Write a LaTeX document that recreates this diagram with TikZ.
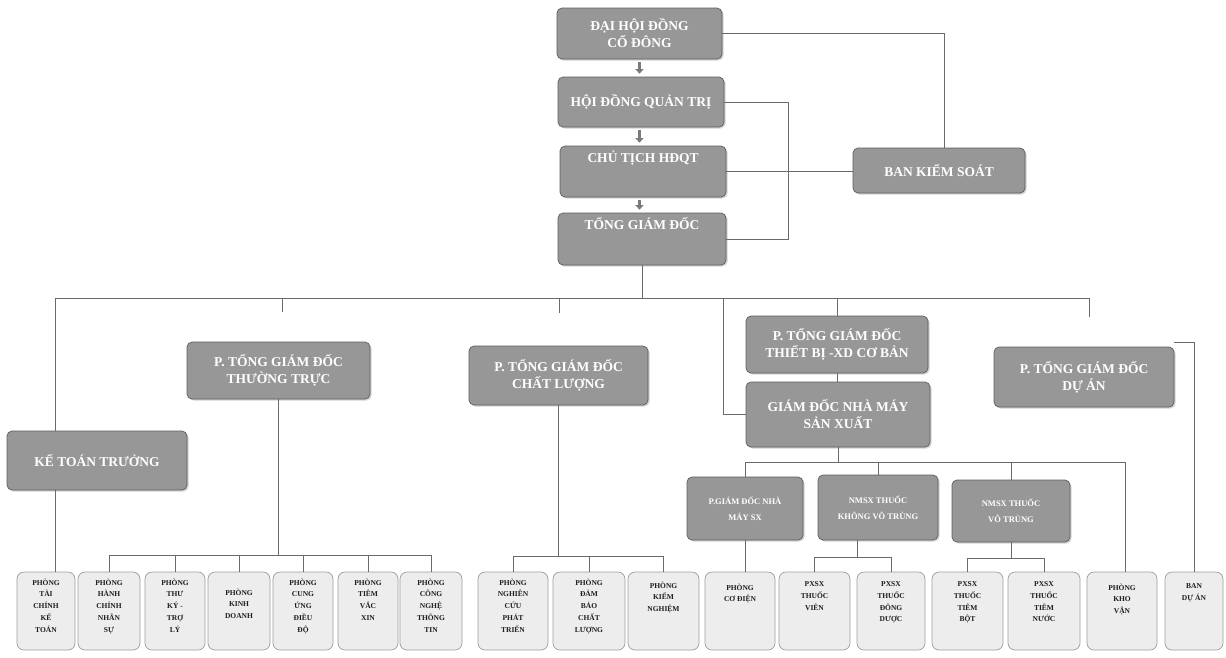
\documentclass[tikz,border=0pt]{standalone}
\usepackage{fontspec}
\setmainfont{Liberation Serif}
\usetikzlibrary{shadows,arrows.meta,calc}
\definecolor{boxfill}{HTML}{979797}
\definecolor{boxline}{HTML}{5E5E5E}
\definecolor{leaffill}{HTML}{EDEDED}
\definecolor{leafline}{HTML}{9E9E9E}
\definecolor{connc}{HTML}{6A6A6A}
\definecolor{leaftext}{HTML}{1E1E1E}
\definecolor{arrowc}{HTML}{7A7A7A}
\newcommand\leafbox[5]{%
  \node[leaf, minimum width=#3pt] (#1) at (#2,611) {};
  \node[leaftxt] (#1t) at ([yshift=-#4pt]#1.north) {#5};}
\begin{document}
\begin{tikzpicture}[x=1pt,y=-1pt,
  mainbox/.style={draw=boxline, line width=0.7pt, rounded corners=5pt, fill=boxfill,
    text=white, font=\bfseries\fontsize{13.5}{17}\selectfont, align=center, inner sep=0pt,
    drop shadow={shadow xshift=1.5pt, shadow yshift=-1.5pt, opacity=0.35}},
  smallbox/.style={mainbox, font=\bfseries\fontsize{8.5}{16}\selectfont},
  leaf/.style={draw=leafline, line width=0.7pt, rounded corners=7pt, fill=leaffill,
    minimum height=78pt, inner sep=0pt},
  leaftxt/.style={anchor=north, inner sep=0pt, align=center, text=leaftext,
    font=\bfseries\fontsize{7.5}{11.7}\selectfont},
  conn/.style={draw=connc, line width=0.7pt},
  blockarrow/.style={draw=arrowc, line width=3.5pt, -{Triangle[width=8pt,length=4.5pt]}}
]
\fill[white] (0,0) rectangle (1226,657);
\useasboundingbox (0,0) rectangle (1226,657);

% top chain
\node[mainbox, minimum width=165pt, minimum height=51pt] (dhd) at (639.5,33.5) {ĐẠI HỘI ĐỒNG\\CỔ ĐÔNG};
\node[mainbox, minimum width=166pt, minimum height=50pt] (hdqt) at (641,102) {HỘI ĐỒNG QUẢN TRỊ};
\node[mainbox, minimum width=166pt, text height=16.3pt, text depth=34.7pt] (ct) at (643,171.5) {CHỦ TỊCH HĐQT};
\node[mainbox, minimum width=168pt, text height=16.3pt, text depth=35.7pt] (tgd) at (642,239) {TỔNG GIÁM ĐỐC};
\node[mainbox, minimum width=172pt, minimum height=45pt] (bks) at (939,170.5) {BAN KIỂM SOÁT};

\draw[blockarrow] ([yshift=-3pt]dhd.south) -- ([yshift=3pt]dhd.south |- hdqt.north);
\draw[blockarrow] ([yshift=-3pt]hdqt.south -| dhd.south) -- ([yshift=3pt]dhd.south |- ct.north);
\draw[blockarrow] ([yshift=-3pt]ct.south -| dhd.south) -- ([yshift=3pt]dhd.south |- tgd.north);

\draw[conn] (dhd.east) -| ([xshift=5pt]bks.north);
\coordinate (vx) at (788,0);
\draw[conn] (hdqt.east) -| (vx |- tgd.east) -- (tgd.east);
\draw[conn] (ct.east) -- (ct.east -| bks.west);

% second level
\node[mainbox, minimum width=180pt, minimum height=59pt] (ktt) at (97,460.5) {KẾ TOÁN TRƯỞNG};
\node[mainbox, minimum width=183pt, minimum height=57pt] (ptt) at (278.5,370.5) {P. TỔNG GIÁM ĐỐC\\THƯỜNG TRỰC};
\node[mainbox, minimum width=179pt, minimum height=59pt] (pcl) at (558.5,375.5) {P. TỔNG GIÁM ĐỐC\\CHẤT LƯỢNG};
\node[mainbox, minimum width=182pt, minimum height=57pt] (ptb) at (837,344.5) {P. TỔNG GIÁM ĐỐC\\THIẾT BỊ -XD CƠ BẢN};
\node[mainbox, minimum width=184pt, minimum height=65pt] (gdnm) at (838,414.5) {GIÁM ĐỐC NHÀ MÁY\\SẢN XUẤT};
\node[mainbox, minimum width=180pt, minimum height=60pt] (pda) at (1084,377) {P. TỔNG GIÁM ĐỐC\\DỰ ÁN};

% third level
\node[smallbox, minimum width=116pt, minimum height=63pt] (pgdnm) at (745,508.5) {P.GIÁM ĐỐC NHÀ\\MÁY SX};
\node[smallbox, minimum width=120pt, minimum height=65pt] (kvt) at (878,507.5) {NMSX THUỐC\\KHÔNG VÔ TRÙNG};
\node[smallbox, minimum width=118pt, minimum height=62pt] (vt) at (1011,511) {NMSX THUỐC\\VÔ TRÙNG};

% leaves
\leafbox{b1}{46}{58}{7}{PHÒNG\\TÀI\\CHÍNH\\KẾ\\TOÁN}
\leafbox{b2}{109}{62}{7}{PHÒNG\\HÀNH\\CHÍNH\\NHÂN\\SỰ}
\leafbox{b3}{175}{60}{7}{PHÒNG\\THƯ\\KÝ -\\TRỢ\\LÝ}
\leafbox{b4}{239}{62}{17}{PHÒNG\\KINH\\DOANH}
\leafbox{b5}{303}{60}{7}{PHÒNG\\CUNG\\ỨNG\\ĐIỀU\\ĐỘ}
\leafbox{b6}{368}{60}{7}{PHÒNG\\TIÊM\\VẮC\\XIN}
\leafbox{b7}{431}{62}{7}{PHÒNG\\CÔNG\\NGHỆ\\THÔNG\\TIN}
\leafbox{b8}{513}{70}{7}{PHÒNG\\NGHIÊN\\CỨU\\PHÁT\\TRIỂN}
\leafbox{b9}{589}{72}{7}{PHÒNG\\ĐẢM\\BẢO\\CHẤT\\LƯỢNG}
\leafbox{b10}{663.5}{71}{10}{PHÒNG\\KIỂM\\NGHIỆM}
\leafbox{b11}{740}{70}{12}{PHÒNG\\CƠ ĐIỆN}
\leafbox{b12}{814.5}{71}{10}{PXSX\\THUỐC\\VIÊN}
\leafbox{b13}{891}{68}{10}{PXSX\\THUỐC\\ĐÔNG\\DƯỢC}
\leafbox{b14}{967.5}{71}{10}{PXSX\\THUỐC\\TIÊM\\BỘT}
\leafbox{b15}{1044}{72}{10}{PXSX\\THUỐC\\TIÊM\\NƯỚC}
\leafbox{b16}{1122}{70}{12}{PHÒNG\\KHO\\VẬN}
\leafbox{b17}{1194}{58}{12}{BAN\\DỰ ÁN}

% main bus under TGD
\coordinate (busL) at (55,298);
\coordinate (busR) at (1089,298);
\draw[conn] (tgd.south) -- (tgd.south |- busL);
\draw[conn] (busL) -- (busR);
\draw[conn] (busL) -- (busL |- ktt.north);
\draw[conn] (busL |- ktt.south) -- (busL |- b1.north);
\coordinate (tkA) at (282,312);
\coordinate (tkB) at (559,313);
\coordinate (tkD) at (1089,317);
\draw[conn] (tkA |- busL) -- (tkA);
\draw[conn] (tkB |- busL) -- (tkB);
\draw[conn] (busR) -- (tkD);
\coordinate (gj) at (723,298);
\draw[conn] (gj) |- (gdnm.west);
\draw[conn] (ptb.north |- busL) -- (ptb.north);
\draw[conn] (ptb.south) -- (ptb.south |- gdnm.north);

% sub bus under factory director
\coordinate (sbL) at (745,462);
\coordinate (sbR) at (1125,462);
\draw[conn] (gdnm.south) -- (gdnm.south |- sbL);
\draw[conn] (sbL) -- (sbR);
\draw[conn] (sbL) -- (sbL |- pgdnm.north);
\draw[conn] (kvt.north |- sbL) -- (kvt.north);
\draw[conn] (vt.north |- sbL) -- (vt.north);
\draw[conn] (sbR) -- (sbR |- b16.north);

% project
\draw[conn] ([yshift=4pt]pda.north east) -| (b17.north);

% thuong truc children
\coordinate (g1) at (0,555);
\draw[conn] (ptt.south) -- (ptt.south |- g1);
\draw[conn] (b2.north |- g1) -- (b7.north |- g1);
\foreach \b in {b2,b3,b4,b5,b6,b7} \draw[conn] (\b.north |- g1) -- (\b.north);

% chat luong children
\coordinate (g2) at (0,556);
\draw[conn] (pcl.south) -- (pcl.south |- g2);
\draw[conn] (b8.north |- g2) -- (b10.north |- g2);
\foreach \b in {b8,b9,b10} \draw[conn] (\b.north |- g2) -- (\b.north);

% co dien
\draw[conn] (pgdnm.south) -- (pgdnm.south |- b11.north);

% khong vo trung
\coordinate (kd) at (857,557);
\draw[conn] (kvt.south -| kd) -- (kd);
\draw[conn] (b12.north |- kd) -- (b13.north |- kd);
\foreach \b in {b12,b13} \draw[conn] (\b.north |- kd) -- (\b.north);

% vo trung
\coordinate (g4) at (0,558);
\draw[conn] (vt.south) -- (vt.south |- g4);
\draw[conn] (b14.north |- g4) -- (b15.north |- g4);
\foreach \b in {b14,b15} \draw[conn] (\b.north |- g4) -- (\b.north);
\end{tikzpicture}
\end{document}
